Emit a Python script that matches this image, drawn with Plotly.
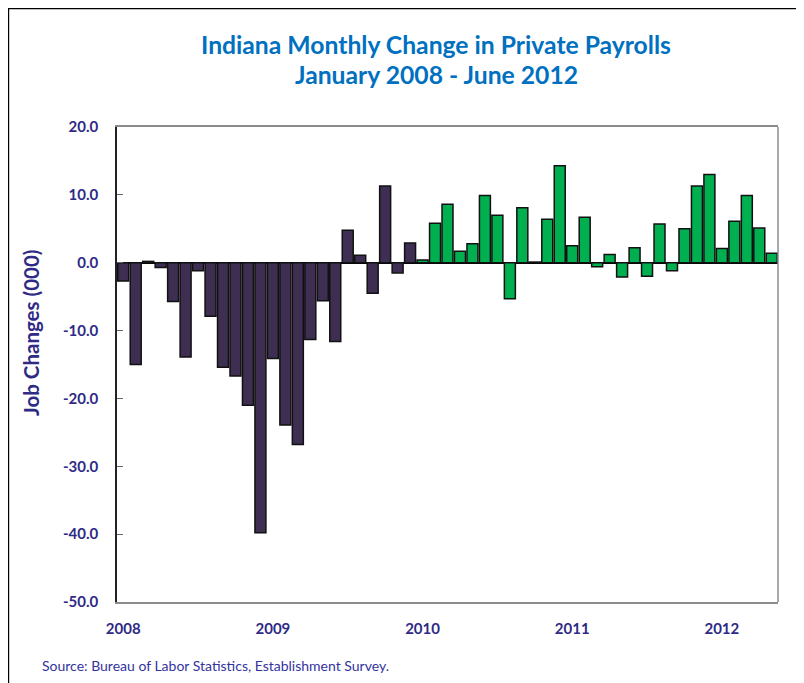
import plotly.graph_objects as go

months = list(range(53))  # Jan 2008 .. May 2012
values = [
    -2.7, -15.0, 0.2, -0.7, -5.7, -13.9, -1.2, -7.9, -15.4, -16.7, -21.0, -39.8,
    -14.1, -23.9, -26.8, -11.3, -5.6, -11.6, 4.8, 1.1, -4.5, 11.3, -1.5, 2.9,
    0.4, 5.8, 8.6, 1.7, 2.8, 9.9, 7.0, -5.3, 8.1, 0.1, 6.4, 14.3,
    2.5, 6.7, -0.6, 1.2, -2.1, 2.2, -2.0, 5.7, -1.2, 5.0, 11.3, 13.0,
    2.1, 6.1, 9.9, 5.1, 1.4,
]
year_labels = ["2008", "2009", "2010", "2011", "2012"]
year_ticks = [0, 12, 24, 36, 48]
y_ticks = [20, 10, 0, -10, -20, -30, -40, -50]
y_tick_labels = ["20.0", "10.0", "0.0", "-10.0", "-20.0", "-30.0", "-40.0", "-50.0"]

colors = ["#3D2E52" if i < 24 else "#00B050" for i in months]

axis_color = "#2E2A85"
frame_gray = "#8C8C8C"

# page body has an 8px margin; size the figure so the plot lands where the reference has it
OFF = 8
W, H = 804 - OFF, 683 - OFF
L, R, T, B = 117 - OFF, 804 - 778, 127 - OFF, 683 - 602
PW, PH = W - L - R, H - T - B


def px_x(x):
    return (x - OFF - L) / PW


def px_y(y):
    return (H - B - (y - OFF)) / PH


fig = go.Figure(go.Bar(
    x=months, y=values,
    marker=dict(color=colors, line=dict(color="#111111", width=1.5)),
    hoverinfo="x+y",
))

fig.update_layout(
    width=W, height=H,
    margin=dict(l=L, r=R, t=T, b=B),
    paper_bgcolor="white", plot_bgcolor="white",
    bargap=0.12,
    showlegend=False,
    font=dict(family="Lato"),
)

fig.update_xaxes(
    range=[-0.5, 52.5],
    tickmode="array", tickvals=year_ticks, ticktext=year_labels,
    tickfont=dict(family="Lato", size=15, color=axis_color, weight="bold"),
    showgrid=False, zeroline=False,
    showline=True, linecolor=frame_gray, linewidth=1.5, mirror=True,
    ticks="", ticklabelstandoff=12,
)

fig.update_yaxes(
    range=[-50, 20],
    tickmode="array", tickvals=y_ticks, ticktext=y_tick_labels,
    tickfont=dict(family="Lato", size=15, color=axis_color, weight="bold"),
    showgrid=False,
    zeroline=True, zerolinecolor="#000000", zerolinewidth=1.5,
    showline=True, linecolor="#222222", linewidth=1.5, mirror=False,
    ticks="inside", ticklen=6, tickcolor="#666666", tickwidth=1.2,
    ticklabelstandoff=14,
)

# right side of the plot frame (gray)
fig.add_shape(type="line", xref="paper", yref="paper", x0=1, x1=1, y0=0, y1=1,
              line=dict(color=frame_gray, width=1.5))

# title (two lines)
fig.add_annotation(text="Indiana Monthly Change in Private Payrolls",
                   xref="paper", yref="paper", x=px_x(436), y=px_y(44),
                   xanchor="center", yanchor="middle", showarrow=False,
                   font=dict(family="Lato", size=24.7, color="#0070C0", weight="bold"))
fig.add_annotation(text="January 2008 - June 2012",
                   xref="paper", yref="paper", x=px_x(436), y=px_y(74),
                   xanchor="center", yanchor="middle", showarrow=False,
                   font=dict(family="Lato", size=24.7, color="#0070C0", weight="bold"))

# y-axis title
fig.add_annotation(text="Job Changes (000)",
                   xref="paper", yref="paper", x=px_x(31), y=px_y(333),
                   xanchor="center", yanchor="middle", showarrow=False, textangle=-90,
                   font=dict(family="Lato", size=20.5, color=axis_color, weight="bold"))

# outer chart frame
fig.add_shape(type="rect", xref="paper", yref="paper",
              x0=px_x(8.6), x1=px_x(900), y0=px_y(800), y1=px_y(8.6),
              line=dict(color="#000000", width=1.2), fillcolor="rgba(0,0,0,0)",
              layer="below")

fig.add_annotation(
    text="Source: Bureau of Labor Statistics, Establishment Survey.",
    xref="paper", yref="paper",
    x=px_x(40), y=px_y(665),
    xanchor="left", yanchor="middle", showarrow=False,
    font=dict(family="Lato", size=14, color="#3333A0"),
)

fig.write_html("out.html")
